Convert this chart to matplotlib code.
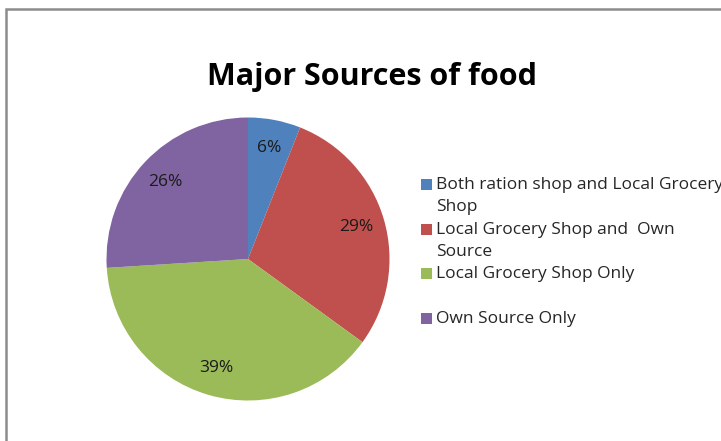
import matplotlib.pyplot as plt
from matplotlib.patches import Rectangle

plt.rcParams['font.family'] = ['Open Sans', 'DejaVu Sans']

title = 'Major Sources of food'
sources = ['Both ration shop and Local Grocery\nShop',
           'Local Grocery Shop and  Own\nSource',
           'Local Grocery Shop Only',
           'Own Source Only']
shares = [6, 29, 39, 26]
colors = ['#4f81bd', '#c0504d', '#9bbb59', '#8064a2']

W, H = 721, 441
fig = plt.figure(figsize=(W / 100, H / 100), dpi=100)

# chart-area frame, runs off the right and bottom edges
fig.patches.append(Rectangle((6 / W, -0.2), 1.2, 1.2 - 9 / H, transform=fig.transFigure,
                             fill=False, edgecolor='#8c8c8c', linewidth=1.8))

# pie: centre (248, 259) px, radius 141.5 px
cx, cy, r = 248, 259, 141.5
ax = fig.add_axes([(cx - r) / W, (H - cy - r) / H, 2 * r / W, 2 * r / H])
wedges, texts, autotexts = ax.pie(shares, colors=colors, startangle=90, counterclock=False,
                                  autopct='%1.0f%%', pctdistance=0.8,
                                  wedgeprops=dict(linewidth=0),
                                  textprops=dict(fontsize=12.5, color='#1a1a1a'))
ax.set_xlim(-1, 1)
ax.set_ylim(-1, 1)
ax.set_aspect('equal')
ax.axis('off')

fig.text(372 / W, 1 - 85 / H, title, ha='center', va='baseline',
         fontsize=22, fontweight='bold', color='black')

# legend, one slot per entry
y0, step = 191, 44.7
for i, (label, color) in enumerate(zip(sources, colors)):
    yb = y0 + i * step
    fig.patches.append(Rectangle((421 / W, 1 - (yb - 1) / H), 11 / W, 11 / H,
                                 transform=fig.transFigure, facecolor=color, edgecolor='none'))
    fig.text(436 / W, 1 - (yb - 14) / H, label, ha='left', va='top', fontsize=12.5,
             color='#262626', linespacing=1.5)

fig.savefig('out.png', dpi=100)
